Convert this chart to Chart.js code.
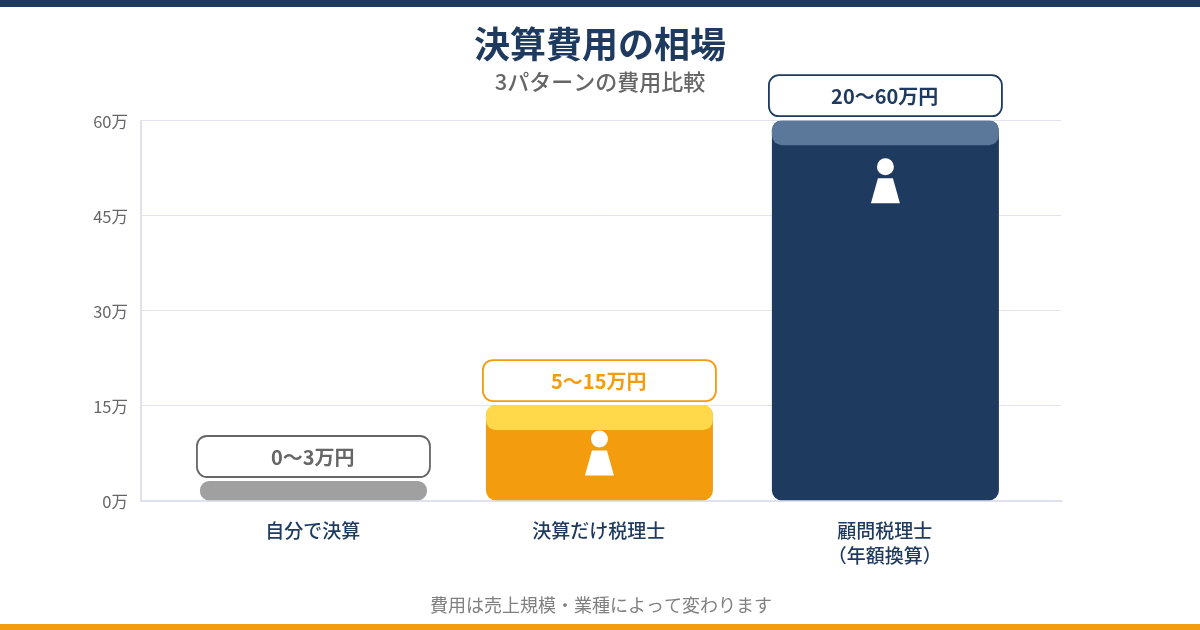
<!DOCTYPE html>
<html>
<head>
<meta charset="utf-8">
<title>決算費用の相場</title>
<script src="https://cdn.jsdelivr.net/npm/chart.js@4"></script>
<style>
  html, body { margin: 0; padding: 0; background: #fff; }
  #wrap { position: relative; width: 1200px; height: 630px; overflow: hidden; }
  #mycanvas { display: block; }
  #topbar { position: absolute; left: 0; top: 0; width: 1200px; height: 7px; background: #1e3a5f; }
  #bottombar { position: absolute; left: 0; bottom: 0; width: 1200px; height: 6px; background: #f39c0d; }
</style>
</head>
<body>
<div id="wrap">
  <canvas id="mycanvas" width="1200" height="630"></canvas>
  <div id="topbar"></div>
  <div id="bottombar"></div>
</div>
<script>
var categories = ['自分で決算', '決算だけ税理士', ['顧問税理士', '（年額換算）']];
var barTops = [3, 15, 60];
var capBottoms = [null, 11.2, 56.2];
var rangeLabels = ['0〜3万円', '5〜15万円', '20〜60万円'];
var barColors = ['#a0a0a0', '#f39c0d', '#1e3a5f'];
var capColors = ['#a0a0a0', '#ffd94a', '#5b7799'];
var labelColors = ['#666666', '#f39c0d', '#1e3a5f'];
var yTicks = [0, 15, 30, 45, 60];

var fontName = '"Noto Sans CJK JP", "Noto Sans", sans-serif';

var capData = [];
var barData = [];
for (var i in barTops) {
  if (capBottoms[i] !== null) {
    capData.push({ x: +i, y: [capBottoms[i], barTops[i]] });
  }
  barData.push({ x: +i, y: [0, barTops[i]] });
}

// pills above the bars and the white person icon inside them
var barExtras = {
  id: 'barExtras',
  afterDatasetsDraw: function(chart) {
    var ctx = chart.ctx;
    var xs = chart.scales.x;
    var ys = chart.scales.y;
    for (var i = 0; i < barTops.length; i++) {
      var cx = xs.getPixelForValue(i);
      var top = ys.getPixelForValue(barTops[i]);
      var base = ys.getPixelForValue(0);

      ctx.save();
      ctx.beginPath();
      ctx.roundRect(cx - 116.5, top - 45.5, 233, 41, 10);
      ctx.fillStyle = '#fff';
      ctx.fill();
      ctx.lineWidth = 1.8;
      ctx.strokeStyle = labelColors[i];
      ctx.stroke();
      ctx.fillStyle = labelColors[i];
      ctx.font = 'bold 20px ' + fontName;
      ctx.textAlign = 'center';
      ctx.textBaseline = 'middle';
      ctx.fillText(rangeLabels[i], cx - 0.7, top - 24.5);

      if (base - top > 60) {
        var mid = Math.min((top + base) / 2, top + 60);
        ctx.fillStyle = '#fff';
        ctx.beginPath();
        ctx.arc(cx, mid - 14, 8.5, 0, Math.PI * 2);
        ctx.fill();
        ctx.beginPath();
        ctx.moveTo(cx - 7.5, mid - 2.5);
        ctx.lineTo(cx + 7.5, mid - 2.5);
        ctx.lineTo(cx + 14.5, mid + 22.5);
        ctx.lineTo(cx - 14.5, mid + 22.5);
        ctx.closePath();
        ctx.fill();
      }
      ctx.restore();
    }
  }
};

var ctx = document.getElementById('mycanvas');
var chart = new Chart(ctx, {
  type: 'bar',
  plugins: [barExtras],
  data: {
    datasets: [
      {
        label: 'cap',
        data: capData,
        backgroundColor: capColors.slice(1),
        borderRadius: 10,
        borderSkipped: false,
        inflateAmount: 0.5,
        barThickness: 226,
        grouped: false
      },
      {
        label: '費用',
        data: barData,
        backgroundColor: barColors,
        borderRadius: 10,
        borderSkipped: false,
        inflateAmount: 0.5,
        barThickness: 226,
        grouped: false
      }
    ]
  },
  options: {
    responsive: false,
    animation: false,
    layout: { padding: 0 },
    plugins: {
      legend: { display: false },
      tooltip: { enabled: false },
      title: {
        display: true,
        text: '決算費用の相場',
        color: '#1e3a5f',
        font: { family: fontName, size: 36, weight: 'bold', lineHeight: 1.2 },
        padding: { top: 22.4, bottom: 0 }
      },
      subtitle: {
        display: true,
        text: '3パターンの費用比較',
        color: '#666666',
        font: { family: fontName, size: 22, weight: '500', lineHeight: 1.2 },
        padding: { top: 3.2, bottom: 25.5 }
      }
    },
    scales: {
      x: {
        type: 'linear',
        offset: false,
        min: -0.603,
        max: 2.614,
        grid: { display: false },
        border: { display: true, color: '#dfe1ee', width: 2 },
        afterBuildTicks: function(axis) {
          axis.ticks = [{ value: 0 }, { value: 1 }, { value: 2 }];
        },
        afterFit: function(axis) {
          axis.height = 129.5;
        },
        ticks: {
          autoSkip: false,
          maxRotation: 0,
          color: '#1e3a5f',
          padding: 10,
          labelOffset: -0.6,
          font: { family: fontName, size: 19, weight: '500', lineHeight: 1.32 },
          callback: function(value) {
            return categories[value];
          }
        },
        title: {
          display: true,
          text: '費用は売上規模・業種によって変わります',
          color: '#808080',
          font: { family: fontName, size: 18, lineHeight: 1.2 },
          padding: { top: 0, bottom: 14 }
        }
      },
      y: {
        min: 0,
        max: 60,
        grid: { color: '#e3e3ef', lineWidth: 1, drawTicks: false },
        border: { display: true, color: '#dfe1ee', width: 2 },
        afterBuildTicks: function(axis) {
          axis.ticks = yTicks.map(function(v) { return { value: v }; });
        },
        afterFit: function(axis) {
          axis.width = 141;
        },
        ticks: {
          color: '#666666',
          padding: 13,
          labelOffset: 1,
          font: { family: fontName, size: 16.5 },
          callback: function(value) {
            return value + '万';
          }
        }
      },
      // empty axis on the right, only keeps the plot off the right edge so the title stays centred
      spacer: {
        type: 'linear',
        position: 'right',
        grid: { display: false },
        border: { display: false },
        ticks: { display: false },
        afterFit: function(axis) {
          axis.width = 139;
        }
      }
    }
  }
});
</script>
</body>
</html>
